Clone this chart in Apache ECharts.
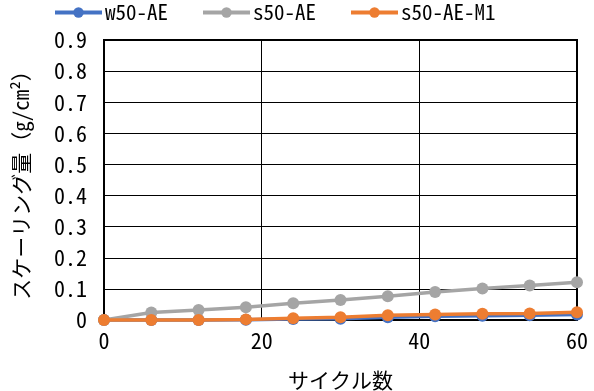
<!DOCTYPE html>
<html>
<head>
<meta charset="utf-8">
<script src="https://cdn.jsdelivr.net/npm/echarts@6/dist/echarts.min.js"></script>
<style>
  html, body { margin: 0; padding: 0; background: #fff; }
  #chart { width: 594px; height: 391px; }
</style>
</head>
<body>
<div id="chart"></div>
<script>
// Cycle counts (x) and scaling amount per series (g/cm²)
const cycles = [0, 6, 12, 18, 24, 30, 36, 42, 48, 54, 60];
const w50AE   = [0, 0, 0, 0.001, 0.003, 0.004, 0.009, 0.012, 0.014, 0.015, 0.018];
const s50AE   = [0, 0.024, 0.032, 0.041, 0.054, 0.064, 0.076, 0.090, 0.101, 0.111, 0.121];
const s50AEM1 = [0, 0, 0, 0.002, 0.006, 0.009, 0.015, 0.018, 0.020, 0.021, 0.025];
const seriesNames = ['w50-AE', 's50-AE', 's50-AE-M1'];
const seriesColors = ['#4472C4', '#A5A5A5', '#ED7D31'];

const FONT = '"Noto Sans Mono CJK JP", "Noto Sans CJK JP", sans-serif';

const pairs = ys => cycles.map((x, i) => [x, ys[i]]);
const seriesData = [w50AE, s50AE, s50AEM1];

const chart = echarts.init(document.getElementById('chart'), null, { renderer: 'canvas' });
chart.setOption({
  animation: false,
  backgroundColor: '#fff',
  textStyle: { fontFamily: FONT },
  legend: {
    top: -3,
    left: 48,
    itemWidth: 47,
    itemHeight: 13,
    itemGap: 33,
    lineStyle: { width: 4 },
    textStyle: { fontFamily: FONT, fontSize: 21, color: '#000', padding: [0, 0, 0, -2] },
    data: seriesNames
  },
  grid: {
    left: 104, right: 17, top: 40, bottom: 71,
    show: true, borderColor: '#000', borderWidth: 2,
    containLabel: false,
    outerBoundsMode: 'none'
  },
  xAxis: {
    type: 'value',
    min: 0, max: 60, interval: 20,
    name: 'サイクル数',
    nameLocation: 'middle',
    nameGap: 50,
    nameTextStyle: { fontFamily: FONT, fontSize: 21, color: '#000' },
    axisLine: { show: true, onZero: false, lineStyle: { color: '#000', width: 2 } },
    axisTick: { show: false },
    splitLine: { show: true, lineStyle: { color: '#000', width: 1 } },
    axisLabel: { fontFamily: FONT, fontSize: 22, color: '#000', margin: 10 }
  },
  yAxis: {
    type: 'value',
    min: 0, max: 0.9, interval: 0.1,
    name: 'スケーリング量（g/cm²）',
    nameLocation: 'middle',
    nameRotate: 90,
    nameGap: 72,
    nameTextStyle: { fontFamily: FONT, fontSize: 21, color: '#000' },
    axisLine: { show: true, lineStyle: { color: '#000', width: 2 } },
    axisTick: { show: false },
    splitLine: { show: true, lineStyle: { color: '#000', width: 1 } },
    axisLabel: {
      fontFamily: FONT, fontSize: 22, color: '#000', margin: 17,
      formatter: v => (v === 0 ? '0' : v.toFixed(1))
    }
  },
  series: seriesData.map((ys, i) => ({
    name: seriesNames[i],
    type: 'line',
    data: pairs(ys),
    symbol: 'circle',
    symbolSize: 12,
    showSymbol: true,
    lineStyle: { color: seriesColors[i], width: 3.5 },
    itemStyle: { color: seriesColors[i], borderWidth: 0 },
    clip: false,
    z: 2 + i
  }))
});
</script>
</body>
</html>
